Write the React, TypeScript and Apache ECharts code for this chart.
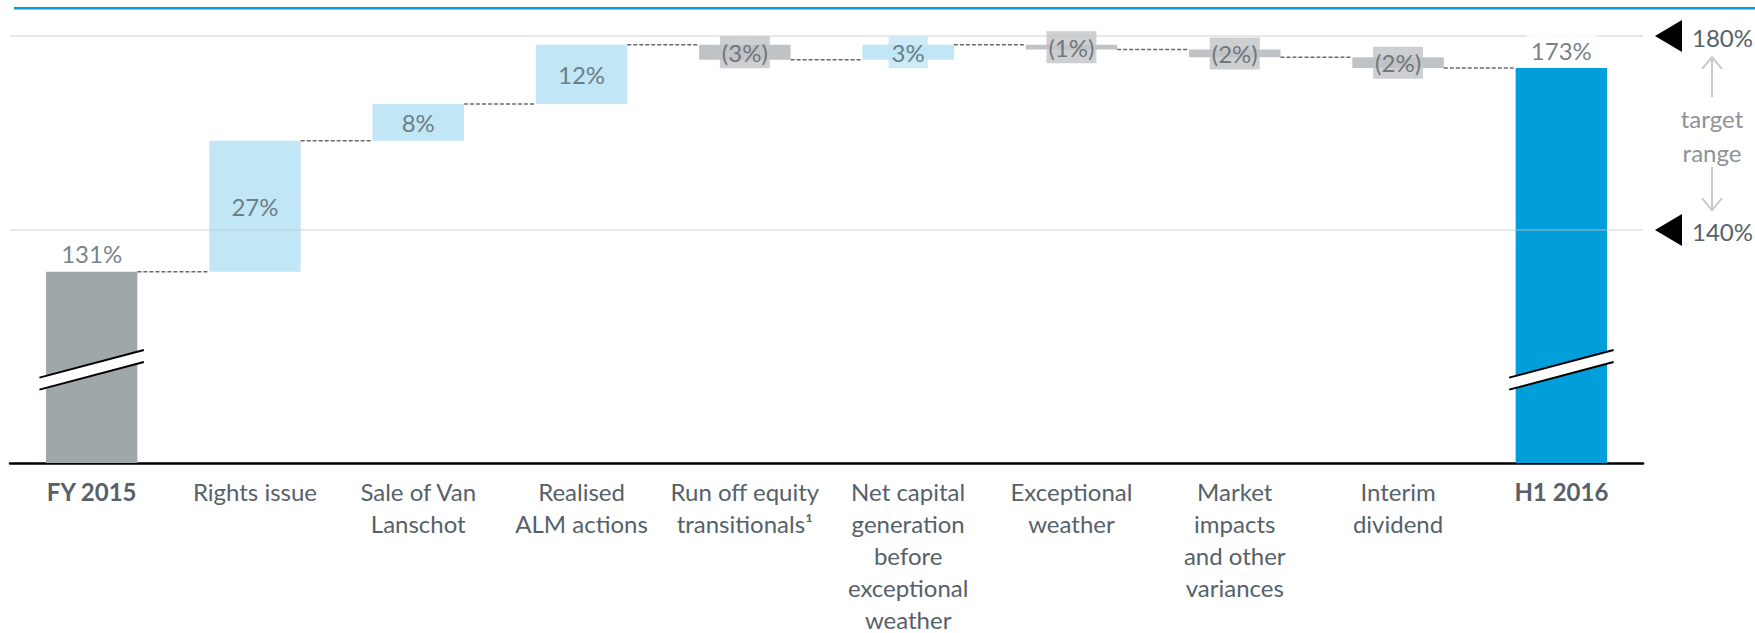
import React, { useEffect, useRef } from 'react';
import * as echarts from 'echarts';

// ---- data ----
const categories = [
  'FY 2015',
  'Rights issue',
  'Sale of Van\nLanschot',
  'Realised\nALM actions',
  'Run off equity\ntransitionals¹',
  'Net capital\ngeneration\nbefore\nexceptional\nweather',
  'Exceptional\nweather',
  'Market\nimpacts\nand other\nvariances',
  'Interim\ndividend',
  'H1 2016',
];
const startValue = 131.4;
const changes = [27.0, 7.6, 12.2, -3.1, 3.1, -1.0, -1.6, -2.2];
const endValue = 173.4;
const targetLevels = [180, 140];
const targetLabels = ['180%', '140%'];
const axisMin = 92;
const axisMax = 180;
const breakValue = 111.2;
const boldCategories = ['FY 2015', 'H1 2016'];

// ---- styles ----
const FONT = 'Lato';
const TEXT = '#56616a';
const C_TOTAL_START = '#a0a7aa';
const C_TOTAL_END = '#009fda';
const C_UP = '#c1e6f5';
const C_DOWN = '#c0c3c6';
const BAR_W = 0.56;
const FS = 24;

export default function App() {
  const ref = useRef<HTMLDivElement>(null);
  useEffect(() => {
    if (!ref.current) return;
    const chart = echarts.init(ref.current, null, { renderer: 'svg' });
    const n = categories.length;
    const levels: number[] = [startValue];
    let cur = startValue;
    changes.forEach((c) => {
      cur += c;
      levels.push(cur);
    });
    const baseData: number[] = [];
    const valData: any[] = [];
    const labelData: any[] = [];
    for (let i = 0; i < n; i++) {
      if (i === 0 || i === n - 1) {
        const v = i === 0 ? startValue : endValue;
        baseData.push(0);
        valData.push({ value: v, itemStyle: { color: i === 0 ? C_TOTAL_START : C_TOTAL_END } });
        labelData.push({
          value: [i, v],
          txt: `${Math.round(v)}%`,
          label: { position: 'top', distance: 2, backgroundColor: '#ffffff', padding: [4, 4] },
        });
      } else {
        const a = levels[i - 1];
        const b = levels[i];
        const d = changes[i - 1];
        const col = d >= 0 ? C_UP : C_DOWN;
        baseData.push(Math.min(a, b));
        valData.push({ value: Math.abs(d), itemStyle: { color: col } });
        labelData.push({
          value: [i, (a + b) / 2],
          txt: d >= 0 ? `${Math.round(d)}%` : `(${Math.round(-d)}%)`,
          label: { position: 'inside', backgroundColor: col, padding: d >= 0 ? [4, 3] : [4, 2] },
        });
      }
    }
    const connectorData = levels.map((lv, i) => [i, lv]);
    const breakData = [[0, breakValue], [n - 1, breakValue]];

    const option: any = {
      animation: false,
      grid: { left: 10, right: 112, top: 36, bottom: 170, containLabel: false, outerBoundsMode: 'none' },
      xAxis: {
        type: 'category',
        data: categories,
        axisLine: { lineStyle: { color: '#000', width: 2.5 } },
        axisTick: { show: false },
        axisLabel: {
          interval: 0,
          margin: 12,
          color: TEXT,
          fontSize: FS,
          lineHeight: 32,
          fontFamily: FONT,
          formatter: (v: string) => (boldCategories.includes(v) ? `{b|${v}}` : v),
          rich: { b: { fontWeight: 'bold', fontSize: FS, lineHeight: 32, color: TEXT, fontFamily: FONT } },
        },
      },
      yAxis: { type: 'value', min: axisMin, max: axisMax, show: false },
      series: [
        {
          type: 'bar',
          stack: 'w',
          data: baseData,
          barWidth: `${BAR_W * 100}%`,
          itemStyle: { color: 'transparent' },
          silent: true,
          z: 2,
        },
        {
          type: 'bar',
          stack: 'w',
          data: valData,
          barWidth: `${BAR_W * 100}%`,
          silent: true,
          z: 2,
        },
        {
          type: 'line',
          data: [],
          z: 5,
          silent: true,
          markLine: {
            silent: true,
            z: 5,
            symbol: ['none', 'none'],
            label: { show: false },
            lineStyle: { type: 'solid', color: 'rgba(200,200,200,0.55)', width: 1.5 },
            data: targetLevels.map((v) => ({ yAxis: v })),
          },
        },
        {
          type: 'custom',
          data: connectorData,
          z: 4,
          silent: true,
          encode: { x: 0, y: 1 },
          renderItem: (params: any, api: any) => {
            const i = api.value(0);
            const p = api.coord([i, api.value(1)]);
            const bw = api.size([1, 0])[0];
            const half = (bw * BAR_W) / 2;
            return {
              type: 'line',
              shape: { x1: p[0] + half, y1: p[1], x2: p[0] + bw - half, y2: p[1] },
              style: { stroke: '#6a6a6a', lineWidth: 1.5, lineDash: [4, 2] },
            };
          },
        },
        {
          type: 'custom',
          data: breakData,
          z: 8,
          silent: true,
          encode: { x: 0, y: 1 },
          renderItem: (params: any, api: any) => {
            const p = api.coord([api.value(0), api.value(1)]);
            const bw = api.size([1, 0])[0];
            const hw = (bw * BAR_W) / 2 + 6.5;
            const slope = 0.264;
            const g = 6;
            const lx = p[0] - hw;
            const rx = p[0] + hw;
            const ul = p[1] + slope * hw - g;
            const ur = p[1] - slope * hw - g;
            const ll = p[1] + slope * hw + g;
            const lr = p[1] - slope * hw + g;
            return {
              type: 'group',
              children: [
                { type: 'polygon', shape: { points: [[lx, ul], [rx, ur], [rx, lr], [lx, ll]] }, style: { fill: '#ffffff' } },
                { type: 'line', shape: { x1: lx, y1: ul, x2: rx, y2: ur }, style: { stroke: '#000', lineWidth: 2 } },
                { type: 'line', shape: { x1: lx, y1: ll, x2: rx, y2: lr }, style: { stroke: '#000', lineWidth: 2 } },
              ],
            };
          },
        },
        {
          type: 'scatter',
          data: labelData,
          symbolSize: 0,
          itemStyle: { color: 'transparent' },
          silent: true,
          z: 10,
          label: {
            show: true,
            color: TEXT,
            fontSize: FS,
            lineHeight: 24,
            fontFamily: FONT,
            formatter: (p: any) => labelData[p.dataIndex].txt,
          },
        },
      ],
    };
    chart.setOption(option);

    const yTop = chart.convertToPixel({ yAxisIndex: 0 }, targetLevels[0]) as number;
    const yBot = chart.convertToPixel({ yAxisIndex: 0 }, targetLevels[1]) as number;
    const mid = (yTop + yBot) / 2;
    const ax = 1712;
    const arrowCol = '#cacaca';
    const graphic: any[] = [
      { type: 'rect', shape: { x: 14, y: 7, width: 1741, height: 2.5 }, style: { fill: '#0a9bd6' }, silent: true },
    ];
    [yTop, yBot].forEach((y, k) => {
      graphic.push({
        type: 'polygon',
        shape: { points: [[1682, y - 16], [1682, y + 16], [1655, y]] },
        style: { fill: '#000' },
        silent: true,
      });
      graphic.push({
        type: 'text',
        x: 1692,
        y: y + 1,
        style: { text: targetLabels[k], fill: TEXT, fontSize: FS, fontFamily: FONT, align: 'left', verticalAlign: 'middle' },
        silent: true,
      });
    });
    graphic.push(
      { type: 'line', shape: { x1: ax, y1: yTop + 21, x2: ax, y2: mid - 36 }, style: { stroke: arrowCol, lineWidth: 2 }, silent: true },
      { type: 'polyline', shape: { points: [[ax - 10, yTop + 33], [ax, yTop + 21], [ax + 10, yTop + 33]] }, style: { stroke: arrowCol, lineWidth: 2, fill: null }, silent: true },
      { type: 'line', shape: { x1: ax, y1: mid + 34, x2: ax, y2: yBot - 20 }, style: { stroke: arrowCol, lineWidth: 2 }, silent: true },
      { type: 'polyline', shape: { points: [[ax - 10, yBot - 32], [ax, yBot - 20], [ax + 10, yBot - 32]] }, style: { stroke: arrowCol, lineWidth: 2, fill: null }, silent: true },
      { type: 'text', x: ax, y: mid - 15, style: { text: 'target', fill: '#8c9297', fontSize: FS, fontFamily: FONT, align: 'center', verticalAlign: 'middle' }, silent: true },
      { type: 'text', x: ax, y: mid + 19, style: { text: 'range', fill: '#8c9297', fontSize: FS, fontFamily: FONT, align: 'center', verticalAlign: 'middle' }, silent: true },
    );
    chart.setOption({ graphic });

    return () => chart.dispose();
  }, []);
  return <div ref={ref} style={{ position: 'absolute', left: 0, top: 0, width: 1755, height: 633 }} />;
}
